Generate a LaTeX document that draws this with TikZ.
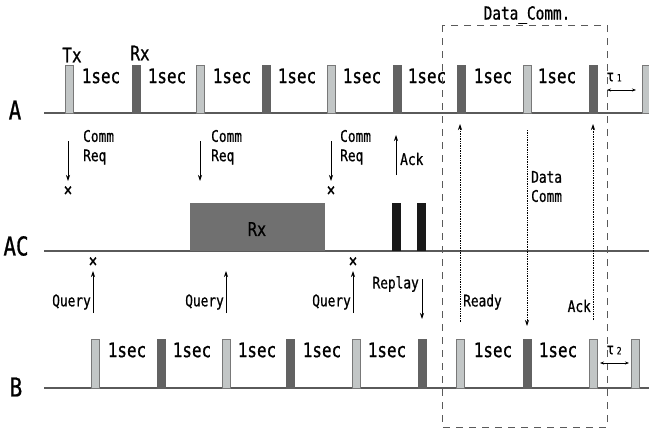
\documentclass[tikz,border=0pt]{standalone}
\usepackage{fontspec}
\setmainfont{DejaVu Sans Mono}[FakeStretch=0.8, FakeBold=0.8]
\usepackage{tikz}
\usetikzlibrary{arrows.meta, positioning}
\usepackage{xcolor}
\definecolor{pulselight}{RGB}{194, 198, 198}
\definecolor{pulseedge}{RGB}{120, 120, 120}
\definecolor{pulsedark}{RGB}{98, 98, 98}
\definecolor{axisgray}{RGB}{90, 90, 90}
\definecolor{rxgray}{RGB}{112, 112, 112}
\definecolor{barblack}{RGB}{24, 24, 24}

\tikzset{
  pulseL/.style={draw=pulseedge, fill=pulselight, line width=0.9pt},
  pulseD/.style={draw=pulsedark, fill=pulsedark, line width=0.9pt},
  axisline/.style={draw=axisgray, line width=1.1pt},
  msg/.style={-{Stealth[length=6pt,width=4pt]}, line width=0.7pt},
  dotmsg/.style={msg, densely dotted},
  lbl/.style={font=\fontsize{16}{16}\selectfont, inner sep=0pt},
  seclbl/.style={font=\fontsize{20}{20}\selectfont, inner sep=0pt},
  rowlbl/.style={font=\fontsize{26}{26}\selectfont, inner sep=0pt},
  cross/.style={font=\fontsize{18}{18}\selectfont, inner sep=0pt}
}

\begin{document}
\begin{tikzpicture}[x=1pt, y=-1pt]
  \useasboundingbox (0,0) rectangle (649,429);

  % Zeilen A, AC, B
  \node[rowlbl] (labA) at (15,110) {A};
  \node[rowlbl] (labAC) at (16,246) {AC};
  \node[rowlbl] (labB) at (16,387) {B};
  \draw[axisline] (44,113) -- (649,113);
  \draw[axisline] (44,251) -- (649,251);
  \draw[axisline] (44,388) -- (649,388);

  % Pulse auf A
  \foreach \x/\t in {65/L,132/D,196/L,262/D,327/L,393/D,457/D,523/L,589/D,642/L}
    \draw[pulse\t] (\x,65) rectangle (\x+8,113);
  \node[seclbl] (txA) at (72,55) {Tx};
  \node[seclbl] (rxA) at (140,53) {Rx};
  \foreach \x [count=\i] in {101,167,232,297,362,427,493,557}
    \node[seclbl] (secA\i) at (\x,76) {1sec};

  % Pulse auf B
  \foreach \x/\t in {91/L,157/D,222/L,286/D,352/L,418/D,456/L,523/D,589/L,631/L}
    \draw[pulse\t] (\x,339) rectangle (\x+8,388);
  \foreach \x [count=\i] in {127,192,257,322,387,493,558}
    \node[seclbl] (secB\i) at (\x,350) {1sec};

  % Empfang am AC
  \fill[rxgray] (190,203) rectangle (325,251);
  \node[font=\fontsize{19}{19}\selectfont, inner sep=0pt] (rxAC) at (257,229) {Rx};
  \fill[barblack] (392,203) rectangle (401,251);
  \fill[barblack] (417,203) rectangle (426,251);

  % Comm Req von A
  \foreach \x/\l [count=\i] in {68/83,200/211,331/340} {
    \draw[msg] (\x,141) -- (\x,181);
    \node[lbl, anchor=west] (comm\i) at (\l,136) {Comm};
    \node[lbl, anchor=west] (req\i) at (\l,157) {Req};
  }
  \node[cross] (xA1) at (68,191) {×};
  \node[cross] (xA2) at (331,191) {×};

  % Ack nach A
  \draw[msg] (396,175) -- (396,135);
  \node[lbl, anchor=west] (ackA) at (400,159) {Ack};

  % Query von B
  \foreach \x [count=\i] in {93,226,353} {
    \draw[msg] (\x,313) -- (\x,271);
    \node[lbl, anchor=east] (query\i) at (\x-2,302) {Query};
  }
  \node[cross] (xB1) at (93,262) {×};
  \node[cross] (xB2) at (353,262) {×};

  % Replay nach B
  \draw[msg] (422,279) -- (422,319);
  \node[lbl, anchor=east] (replay) at (419,284) {Replay};

  % Datenkommunikation
  \draw[dotmsg] (460,322) -- (460,124);
  \node[lbl, anchor=west] (ready) at (463,302) {Ready};
  \draw[dotmsg] (527,130) -- (527,326);
  \node[lbl, anchor=west] (data) at (531,177) {Data};
  \node[lbl, anchor=west] (dcomm) at (531,196) {Comm};
  \draw[dotmsg] (593,320) -- (593,124);
  \node[lbl, anchor=east] (ackB) at (591,306) {Ack};

  % Rahmen Data_Comm.
  \draw[axisgray, line width=0.8pt, dash pattern=on 7pt off 6pt] (442,25) rectangle (607,427);
  \node[font=\fontsize{18}{18}\selectfont, inner sep=0pt] (dcbox) at (527,15) {Data\_Comm.};

  % Versatz tau
  \node[font=\fontsize{16}{16}\selectfont, inner sep=0pt] (tau1) at (614,77)
    {τ\,{\fontsize{10}{10}\selectfont 1}};
  \draw[{Stealth[length=4pt,width=3pt]}-{Stealth[length=4pt,width=3pt]}, line width=0.6pt] (607,90) -- (636,90);
  \node[font=\fontsize{16}{16}\selectfont, inner sep=0pt] (tau2) at (614,350)
    {τ\,{\fontsize{10}{10}\selectfont 2}};
  \draw[{Stealth[length=4pt,width=3pt]}-{Stealth[length=4pt,width=3pt]}, line width=0.6pt] (600,363) -- (629,363);
\end{tikzpicture}
\end{document}
